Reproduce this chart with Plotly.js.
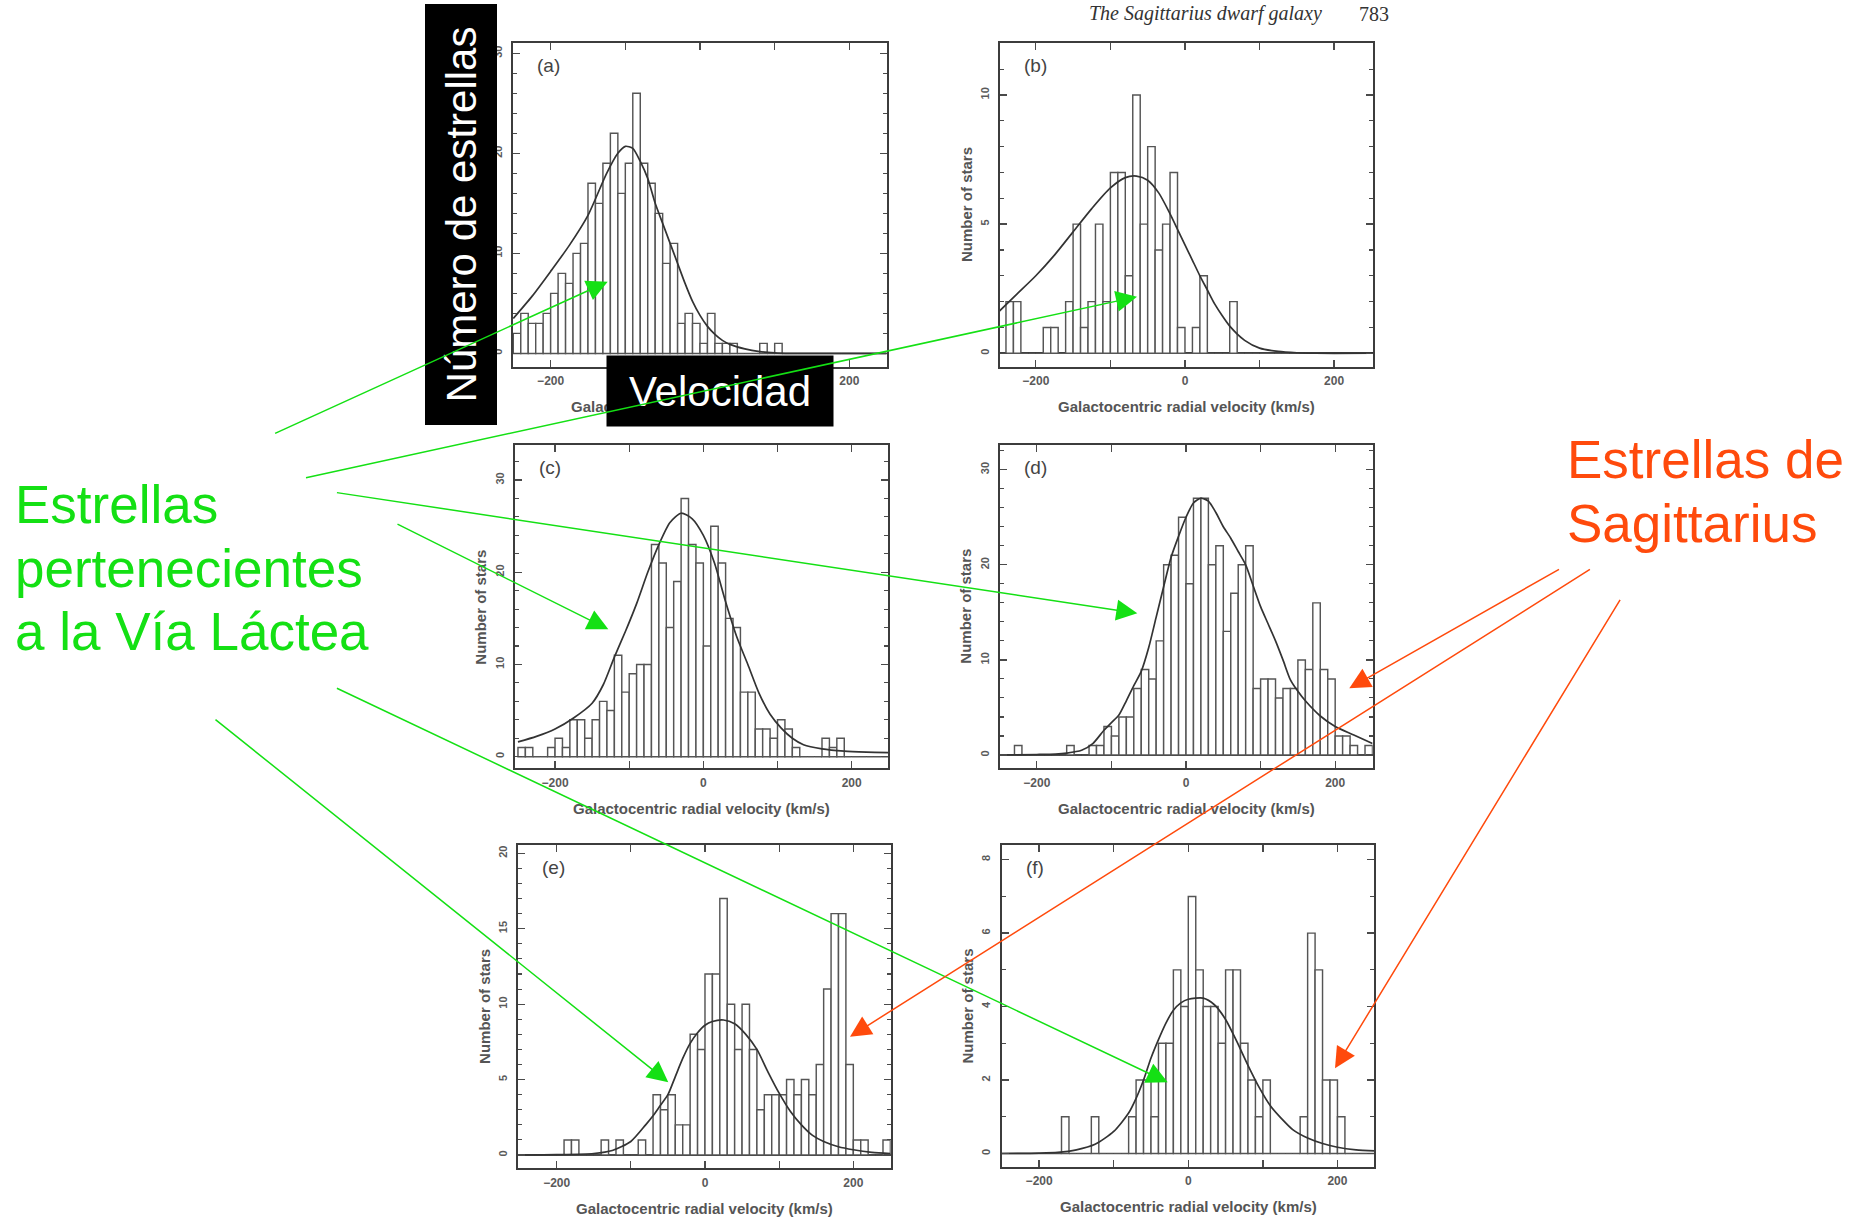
<!DOCTYPE html>
<html>
<head>
<meta charset="utf-8">
<script src="https://cdn.plot.ly/plotly-3.0.1.min.js"></script>
<style>
  html, body { margin: 0; padding: 0; background: #ffffff; }
  #chart { width: 1865px; height: 1223px; }
</style>
</head>
<body>
<div id="chart"></div>
<script>
// ---- Data: radial-velocity histograms (10 km/s bins) and model curves ----
const binCentres = [-245,-235,-225,-215,-205,-195,-185,-175,-165,-155,
                    -145,-135,-125,-115,-105,-95,-85,-75,-65,-55,
                    -45,-35,-25,-15,-5,5,15,25,35,45,
                    55,65,75,85,95,105,115,125,135,145,
                    155,165,175,185,195,205,215,225,235,245];

const countsA = [2,4,3,3,4,6,8,7,10,11, 17,15,19,22,16,19,26,19,17,14,
                 9,11,3,4,3,1,4,1,1,1, 0,0,0,1,0,1,0,0,0,0, 0,0,0,0,0,0,0,0,0,0];
const countsB = [0,2,2,0,0,0,1,1,0,2, 5,1,2,5,2,7,7,3,10,5,
                 8,4,5,7,1,0,1,3,0,0, 0,2,0,0,0,0,0,0,0,0, 0,0,0,0,0,0,0,0,0,0];
const countsC = [1,1,0,0,1,2,1,4,4,2, 4,6,5,11,7,9,10,10,23,21,
                 14,19,28,23,21,12,25,21,15,14, 7,7,3,3,2,4,3,1,0,0, 0,2,1,2,0,0,0,0,0,0];
const countsD = [0,0,1,0,0,0,0,0,0,1, 0,0,1,1,3,2,4,4,7,9,
                 8,12,20,21,25,18,27,27,20,22, 13,17,20,22,7,8,8,6,7,7, 10,9,16,9,8,2,2,1,0,1];
const countsE = [0,0,0,0,0,0,1,1,0,0, 0,1,0,1,0,0,1,0,4,3,
                 4,2,2,8,7,12,12,17,10,7, 10,7,3,4,4,4,5,4,5,4, 6,11,16,16,6,1,1,0,0,1];
const countsF = [0,0,0,0,0,0,0,0,1,0, 0,0,1,0,0,0,0,1,2,2,
                 1,3,3,5,4,7,5,4,4,3, 5,5,3,2,1,2,0,0,0,0, 1,6,5,2,2,1,0,0,0,0];

const fitVelA   = [-250,-225,-200,-175,-150,-125,-110,-100,-90,-80,-70,-60,-50,-40,-30,-20,-10,0,10,20,30,40,60,80,100,120,160,250];
const fitCountA = [3.5,5.7,8.2,10.8,13.8,18.0,20.0,20.7,20.5,19.2,17.5,15.0,13.0,11.0,9.0,7.0,5.2,3.8,2.7,1.9,1.3,0.9,0.45,0.18,0.05,0,0,0];

const fitVelB   = [-250,-225,-200,-175,-150,-125,-100,-80,-65,-50,-35,-20,-10,0,10,20,30,40,50,60,80,100,125,150,175,250];
const fitCountB = [1.6,2.3,3.0,3.8,4.7,5.6,6.4,6.8,6.86,6.7,6.2,5.4,4.8,4.2,3.6,3.0,2.45,1.9,1.45,1.05,0.5,0.2,0.07,0.02,0,0];

const fitVelC   = [-250,-225,-200,-175,-150,-135,-120,-105,-90,-75,-60,-45,-30,-15,0,15,30,45,60,75,90,105,120,135,160,190,220,250];
const fitCountC = [1.6,2.2,3.0,4.2,5.8,7.8,10.8,13.6,16.6,20.0,23.0,25.4,26.4,25.8,24.0,21.0,16.8,13.0,10.0,6.9,4.6,3.1,2.0,1.3,0.85,0.6,0.5,0.45];

const fitVelD   = [-250,-200,-175,-160,-140,-125,-110,-100,-90,-80,-70,-60,-50,-40,-30,-20,-10,0,10,20,30,40,50,60,70,80,90,100,110,120,130,140,150,160,180,200,225,250];
const fitCountD = [0,0.05,0.1,0.2,0.5,1.2,2.6,3.4,4.2,5.7,7.3,8.8,11.3,14.5,17.7,20.8,23.0,25.0,26.5,27.0,26.7,25.5,24.0,22.8,21.4,20.0,17.8,15.6,13.8,12.0,10.0,7.9,6.7,5.7,4.1,3.0,2.1,1.2];

const fitVelE   = [-250,-200,-150,-125,-100,-80,-70,-60,-50,-40,-30,-20,-10,0,10,25,40,55,70,85,100,115,130,145,160,180,200,225,250];
const fitCountE = [0,0.02,0.1,0.3,0.9,2.0,2.6,3.3,4.0,5.2,6.4,7.4,8.1,8.6,8.85,8.95,8.7,8.0,7.0,5.5,4.1,2.9,2.0,1.3,0.9,0.55,0.35,0.18,0.1];

const fitVelF   = [-250,-200,-175,-150,-125,-100,-80,-70,-60,-50,-40,-30,-20,-10,0,20,35,50,65,80,95,110,125,140,160,180,200,225,250];
const fitCountF = [0,0.01,0.03,0.1,0.25,0.6,1.1,1.5,2.0,2.6,3.1,3.55,3.9,4.1,4.2,4.23,4.05,3.65,3.05,2.4,1.8,1.3,0.95,0.65,0.42,0.27,0.17,0.1,0.07];

const panelLabels = ['(a)','(b)','(c)','(d)','(e)','(f)'];
const xTickVals = [-200,-100,0,100,200];
const xTickText = ['\u2212200','','0','','200'];
const xTitleText = 'Galactocentric radial velocity (km/s)';
const yTitleText = 'Number of stars';
const headerText = 'The Sagittarius dwarf galaxy';
const pageNumber = '783';
const boxYText = 'Número de estrellas';
const boxXText = 'Velocidad';
const milkyWayLines = ['Estrellas', 'pertenecientes', 'a la Vía Láctea'];
const sgrLines = ['Estrellas de', 'Sagittarius'];

// ---- Page geometry (pixels) ----
const W = 1865, H = 1223;
const px = x => x / W;
const py = y => 1 - y / H;

const panels = [
  {frame:[513,43.3,886.7,366.7],    xr:[-250.4,250],   yr:[-1.33,31],   dtick:10, minor:2, counts:countsA, fv:fitVelA, fn:fitCountA},
  {frame:[1000,43.3,1372.7,366.7],  xr:[-248,251.7],   yr:[-0.52,12],   dtick:5,  minor:1, counts:countsB, fv:fitVelB, fn:fitCountB},
  {frame:[515,445,888.3,768.3],     xr:[-254,249.4],   yr:[-1.26,33.8], dtick:10, minor:2, counts:countsC, fv:fitVelC, fn:fitCountC},
  {frame:[1000,445,1372.7,768.3],   xr:[-249.4,250.3], yr:[-1.4,32.6],  dtick:10, minor:2, counts:countsD, fv:fitVelD, fn:fitCountD},
  {frame:[518.3,845,890.7,1168.3],  xr:[-251.7,250.4], yr:[-0.88,20.55],dtick:5,  minor:1, counts:countsE, fv:fitVelE, fn:fitCountE},
  {frame:[1001.7,845,1374.3,1166.7],xr:[-250.2,249.4], yr:[-0.36,8.4],  dtick:2,  minor:1, counts:countsF, fv:fitVelF, fn:fitCountF}
];

const frameColor = '#3c3c3c';
const inkColor = '#4a4a4a';
const labelFont = {family:'Liberation Sans, Arial, sans-serif', size:12, color:'#5a5a5a', weight:'bold'};

const traces = [];
const layout = {
  width: W, height: H,
  margin: {l:0, r:0, t:0, b:0},
  paper_bgcolor: '#ffffff', plot_bgcolor: '#ffffff',
  showlegend: false,
  font: {family:'Liberation Sans, Arial, sans-serif'},
  annotations: []
};

panels.forEach((p, i) => {
  const n = i === 0 ? '' : String(i + 1);
  const [x0, y0, x1, y1] = p.frame;

  traces.push({
    type: 'bar', x: binCentres, y: p.counts, width: 10,
    xaxis: 'x' + n, yaxis: 'y' + n,
    marker: {color: '#ffffff', line: {color: '#555555', width: 1.45}},
    hoverinfo: 'skip'
  });
  traces.push({
    type: 'scatter', mode: 'lines', x: p.fv, y: p.fn,
    xaxis: 'x' + n, yaxis: 'y' + n,
    line: {color: '#333333', width: 1.7, shape: 'spline', smoothing: 0.7},
    hoverinfo: 'skip'
  });

  layout['xaxis' + n] = {
    domain: [px(x0), px(x1)], anchor: 'y' + n, range: p.xr,
    showline: true, linecolor: frameColor, linewidth: 2, mirror: 'allticks',
    ticks: 'inside', ticklen: 7, tickwidth: 1.3, tickcolor: inkColor,
    tickmode: 'array', tickvals: xTickVals, ticktext: xTickText,
    tickfont: labelFont, ticklabelstandoff: 2,
    showgrid: false, zeroline: false, fixedrange: true
  };
  layout['yaxis' + n] = {
    domain: [py(y1), py(y0)], anchor: 'x' + n, range: p.yr,
    showline: true, linecolor: frameColor, linewidth: 2, mirror: 'allticks',
    ticks: 'inside', ticklen: 7, tickwidth: 1.3, tickcolor: inkColor,
    tick0: 0, dtick: p.dtick, tickangle: -90,
    minor: {dtick: p.minor, tick0: 0, ticks: 'inside', ticklen: 4, tickwidth: 1.1, tickcolor: inkColor},
    tickfont: {family: labelFont.family, size: 11, color: '#5a5a5a', weight: 'bold'},
    ticklabelstandoff: 5,
    showgrid: false, zeroline: true, zerolinecolor: '#2e2e2e', zerolinewidth: 1.6,
    fixedrange: true
  };

  // panel letter
  layout.annotations.push({
    xref: 'paper', yref: 'paper', x: px(x0 + 22), y: py(y0 + 22),
    xanchor: 'left', yanchor: 'middle', showarrow: false,
    text: panelLabels[i], font: {size: 19, color: '#444444'}
  });
  // axis titles
  layout.annotations.push({
    xref: 'paper', yref: 'paper', x: px((x0 + x1) / 2), y: py(y1 + 40),
    xanchor: 'center', yanchor: 'middle', showarrow: false,
    text: xTitleText, font: {size: 15, color: '#555555', weight: 'bold'}
  });
  layout.annotations.push({
    xref: 'paper', yref: 'paper', x: px(x0 - 34), y: py((y0 + y1) / 2),
    xanchor: 'center', yanchor: 'middle', showarrow: false, textangle: -90,
    text: yTitleText, font: {size: 15, color: '#555555', weight: 'bold'}
  });
});

// running header
layout.annotations.push({
  xref: 'paper', yref: 'paper', x: px(1087), y: py(14), xanchor: 'left', yanchor: 'middle',
  showarrow: false, text: headerText,
  font: {family: 'Liberation Serif, Times New Roman, serif', size: 20, style: 'italic', color: '#333333'}
});
layout.annotations.push({
  xref: 'paper', yref: 'paper', x: px(1357), y: py(14), xanchor: 'left', yanchor: 'middle',
  showarrow: false, text: pageNumber,
  font: {family: 'Liberation Serif, Times New Roman, serif', size: 20, color: '#333333'}
});

// black caption boxes
layout.annotations.push({
  xref: 'paper', yref: 'paper', x: px(460.5), y: py(215), xanchor: 'center', yanchor: 'middle',
  showarrow: false, text: boxYText, textangle: -90,
  width: 420, height: 71, bgcolor: '#000000', borderpad: 0,
  font: {size: 42, color: '#ffffff'}
});
layout.annotations.push({
  xref: 'paper', yref: 'paper', x: px(720), y: py(391), xanchor: 'center', yanchor: 'middle',
  showarrow: false, text: boxXText,
  width: 226, height: 70, bgcolor: '#000000', borderpad: 0,
  font: {size: 42, color: '#ffffff'}
});

// coloured captions
const green = '#14e014';
const orange = '#ff4a0c';
const mwY = [504, 568.5, 631.6];
milkyWayLines.forEach((t, k) => layout.annotations.push({
  xref: 'paper', yref: 'paper', x: px(13), y: py(mwY[k]), xanchor: 'left', yanchor: 'middle',
  showarrow: false, text: t, font: {size: 53, color: green}
}));
const sgY = [460, 523.5];
sgrLines.forEach((t, k) => layout.annotations.push({
  xref: 'paper', yref: 'paper', x: px(1565), y: py(sgY[k]), xanchor: 'left', yanchor: 'middle',
  showarrow: false, text: t, font: {size: 53, color: orange}
}));

// pointer arrows: [headX, headY, tailX, tailY] in page pixels
const greenArrows = [
  [607.7, 281.7, 273.6, 434],
  [1137, 296.7, 304.5, 478],
  [1137.3, 613.3, 335.4, 492.4],
  [608.3, 629.3, 396, 523.3],
  [1167.7, 1082.3, 335.4, 687.5],
  [668.3, 1082.3, 214, 718.4]
];
const orangeArrows = [
  [1349.3, 688.3, 1560.5, 568.5],
  [850, 1036.7, 1591.4, 568.5],
  [1335, 1068.3, 1621, 598.3]
];
function addArrow(a, color) {
  layout.annotations.push({
    xref: 'paper', yref: 'paper', x: px(a[0]), y: py(a[1]),
    axref: 'pixel', ayref: 'pixel', ax: a[2] - a[0], ay: a[3] - a[1],
    text: '', showarrow: true, arrowhead: 2, arrowsize: 2.8, arrowwidth: 1.5,
    arrowcolor: color, standoff: 0, startstandoff: 0
  });
}
greenArrows.forEach(a => addArrow(a, green));
orangeArrows.forEach(a => addArrow(a, orange));

Plotly.newPlot('chart', traces, layout, {staticPlot: true, displayModeBar: false});
</script>
</body>
</html>
